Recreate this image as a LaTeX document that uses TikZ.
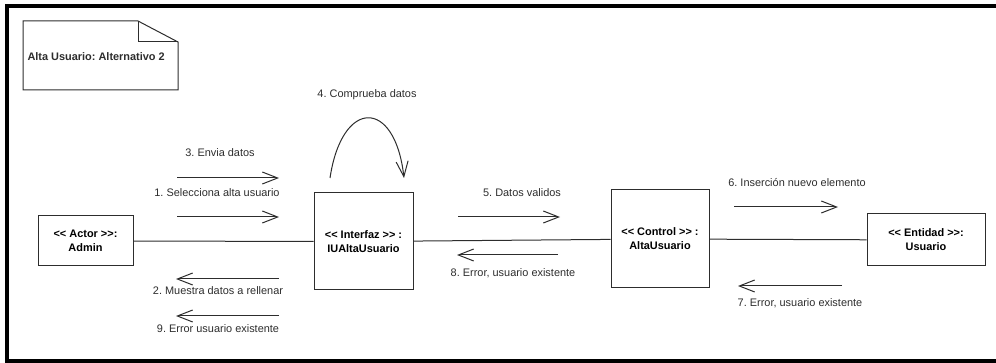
\documentclass[tikz,border=0pt]{standalone}
\usepackage{fontspec}
\setmainfont{Liberation Sans}
\usetikzlibrary{arrows.meta}

\definecolor{umlline}{RGB}{45,45,45}
\newcommand\stereoL{<\kern0pt<}
\newcommand\stereoR{>\kern0pt>}
\frenchspacing

\tikzset{every picture/.style={line width=0.75pt}}
\tikzset{
  objbox/.style={draw=umlline, align=center, inner sep=0pt, font=\fontsize{8.2}{10.5}\selectfont\bfseries},
  link/.style={draw=umlline},
  msg/.style={draw=umlline, -{Straight Barb[length=11.5pt,width=9pt]}},
  msglabel/.style={inner sep=0.75pt, text=umlline, font=\fontsize{8.2}{10}\selectfont},
}

\begin{document}
\begin{tikzpicture}[x=0.75pt,y=0.75pt,yscale=-1,xscale=1]
\useasboundingbox (0,0) rectangle (996,363);

%Frame
\draw [line width=3.4pt] (1010,6) -- (7,6) -- (7,361) -- (1010,361) ;

%Shape: Note
\draw [umlline] (23,21) -- (138,21) -- (178,42) -- (178,90) -- (23,90) -- cycle ;
\draw [umlline] (138,21) -- (138,42) -- (178,42) ;
% Text Node
\node [msglabel, anchor=west, font=\fontsize{8.2}{10}\selectfont\bfseries] (title) at (26,57) {Alta Usuario: Alternativo 2};

%Objects
\node [objbox, minimum width=71.25pt, minimum height=37.5pt] (actor) at (85.5,241) {\stereoL{} Actor \stereoR:\\Admin};
\node [objbox, minimum width=74.25pt, minimum height=72.75pt] (iface) at (363.5,241.5) {\stereoL{} Interfaz \stereoR{} :\\IUAltaUsuario};
\node [objbox, minimum width=73.5pt, minimum height=73.5pt] (ctrl) at (660,239) {\stereoL{} Control \stereoR{} :\\AltaUsuario};
\node [objbox, minimum width=88.5pt, minimum height=39pt] (ent) at (926,240) {\stereoL{} Entidad \stereoR:\\Usuario};

%Links
\draw [link] (actor) -- (iface) ;
\draw [link] (iface) -- (ctrl) ;
\draw [link] (ctrl) -- (ent) ;

%Message ends
\coordinate (m3a) at (177,178) ; \coordinate (m3b) at (279,178) ;
\coordinate (m1a) at (177,217) ; \coordinate (m1b) at (279,217) ;
\coordinate (m2a) at (279,279) ; \coordinate (m2b) at (176,279) ;
\coordinate (m9a) at (279,316) ; \coordinate (m9b) at (176,316) ;
\coordinate (m4a) at (330,178) ; \coordinate (m4b) at (404,178) ;
\coordinate (m5a) at (458,217) ; \coordinate (m5b) at (560,217) ;
\coordinate (m8a) at (558,255) ; \coordinate (m8b) at (457,255) ;
\coordinate (m6a) at (734,207) ; \coordinate (m6b) at (838,207) ;
\coordinate (m7a) at (842,286) ; \coordinate (m7b) at (738,286) ;

%Straight Lines
\draw [msg] (m3a) -- (m3b) ;
\draw [msg] (m1a) -- (m1b) ;
\draw [msg] (m2a) -- (m2b) ;
\draw [msg] (m9a) -- (m9b) ;
\draw [msg] (m5a) -- (m5b) ;
\draw [msg] (m8a) -- (m8b) ;
\draw [msg] (m6a) -- (m6b) ;
\draw [msg] (m7a) -- (m7b) ;
%Curve Lines
\draw [msg] (m4a) .. controls (342,98) and (395,98) .. (m4b) ;

% Text Node
\node [msglabel] (l3) at (220,153) {3. Envia datos};
\node [msglabel] (l1) at (217,193) {1. Selecciona alta usuario};
\node [msglabel] (l2) at (218,291) {2. Muestra datos a rellenar};
\node [msglabel] (l9) at (218,329) {9. Error usuario existente};
\node [msglabel] (l4) at (367,95) {4. Comprueba datos};
\node [msglabel] (l5) at (522,193) {5. Datos validos};
\node [msglabel] (l8) at (513,273) {8. Error, usuario existente};
\node [msglabel] (l6) at (797,183) {6. Inserción nuevo elemento};
\node [msglabel] (l7) at (800,303) {7. Error, usuario existente};

\end{tikzpicture}
\end{document}
